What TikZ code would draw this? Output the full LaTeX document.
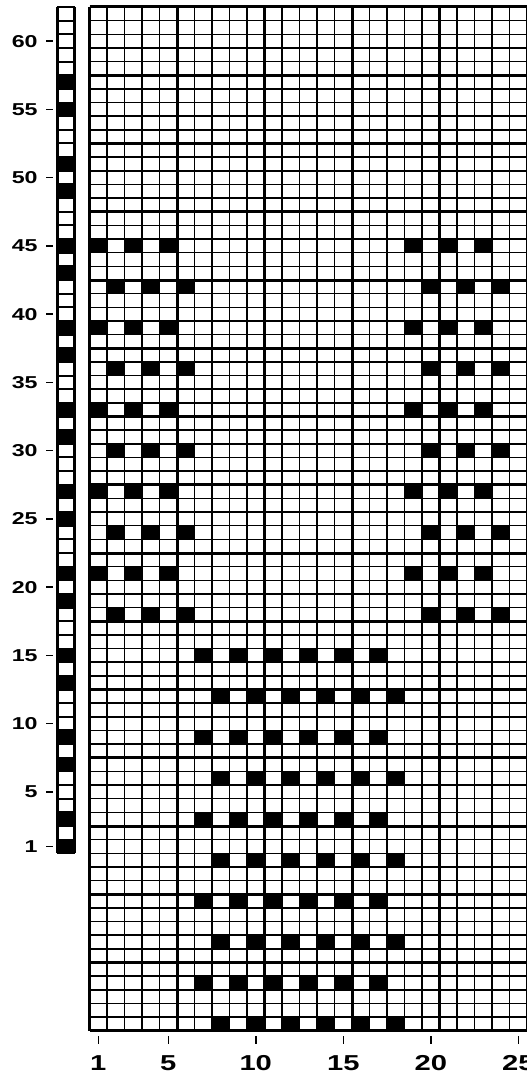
\documentclass[tikz,border=0pt]{standalone}
\usepackage{fontspec}
\newfontfamily\chartfont[FakeStretch=1.35]{Liberation Sans}

\def\gx{89.5}  % left edge of the chart
\def\gy{7}     % top edge
\def\cw{17.5}  % column width
\def\rh{13.65} % row height
\def\sx{57}    % left edge of the strip

\begin{document}
\begin{tikzpicture}[x=0.5pt,y=-0.5pt,
  every node/.style={inner sep=0pt},
  fine/.style={line width=0.75pt},
  heavy/.style={line width=1.5pt},
  rowlab/.style={anchor=east,font=\chartfont\bfseries\fontsize{8.6}{9}\selectfont},
  collab/.style={font=\chartfont\bfseries\fontsize{10.8}{12}\selectfont}]
  \fill[white] (0,0) rectangle (526,1075);
  \useasboundingbox (0,0) rectangle (526,1075);

  % black cells, upper part
  \foreach \r in {17,23,29,35,41}
    \foreach \c in {1,3,5,19,21,23}
      \fill ({\gx+(\c-1)*\cw},{\gy+\r*\rh}) rectangle ++(\cw,\rh);
  \foreach \r in {20,26,32,38,44}
    \foreach \c in {2,4,6,20,22,24}
      \fill ({\gx+(\c-1)*\cw},{\gy+\r*\rh}) rectangle ++(\cw,\rh);
  % black cells, lower part
  \foreach \r in {47,53,59,65,71}
    \foreach \c in {7,9,...,17}
      \fill ({\gx+(\c-1)*\cw},{\gy+\r*\rh}) rectangle ++(\cw,\rh);
  \foreach \r in {50,56,62,68,74}
    \foreach \c in {8,10,...,18}
      \fill ({\gx+(\c-1)*\cw},{\gy+\r*\rh}) rectangle ++(\cw,\rh);

  % the grid
  \foreach \c in {0,...,26}
    \draw[fine] ({\gx+\c*\cw},\gy) -- ++(0,{75*\rh});
  \foreach \r in {0,...,75}
    \draw[fine] (\gx,{\gy+\r*\rh}) -- (545,{\gy+\r*\rh});
  \foreach \c in {0,5,...,25}
    \draw[heavy] ({\gx+\c*\cw},\gy) -- ++(0,{75*\rh});
  \foreach \r in {0,5,...,75}
    \draw[heavy] (\gx,{\gy+\r*\rh}) -- (545,{\gy+\r*\rh});

  % strip of rows 1 to 62
  \foreach \k in {1,3,7,9,13,15,19,21,25,27,31,33,37,39,43,45,49,51,55,57}
    \fill (\sx,{\gy+(62-\k)*\rh}) rectangle ++(\cw,\rh);
  \foreach \k in {0,...,62}
    \draw[line width=1pt] (\sx,{\gy+\k*\rh}) -- ++(\cw,0);
  \draw[heavy] (\sx,\gy) -- ++(0,{62*\rh});
  \draw[heavy] ({\sx+\cw},\gy) -- ++(0,{62*\rh});

  % row numbers
  \foreach \k in {60,55,50,45,40,35,30,25,20,15,10,5,1} {
    \node[rowlab] (r\k) at (38,{\gy+(62-\k+0.5)*\rh}) {\k};
    \draw[fine] (46,{\gy+(62-\k+0.5)*\rh}) -- (53,{\gy+(62-\k+0.5)*\rh});
  }
  % column numbers
  \foreach \c in {1,5,10,15,20,25} {
    \draw[fine] ({\gx+(\c-0.5)*\cw},1036) -- ++(0,8);
    \node[collab] (c\c) at ({\gx+(\c-0.5)*\cw},1063) {\c};
  }
\end{tikzpicture}
\end{document}
